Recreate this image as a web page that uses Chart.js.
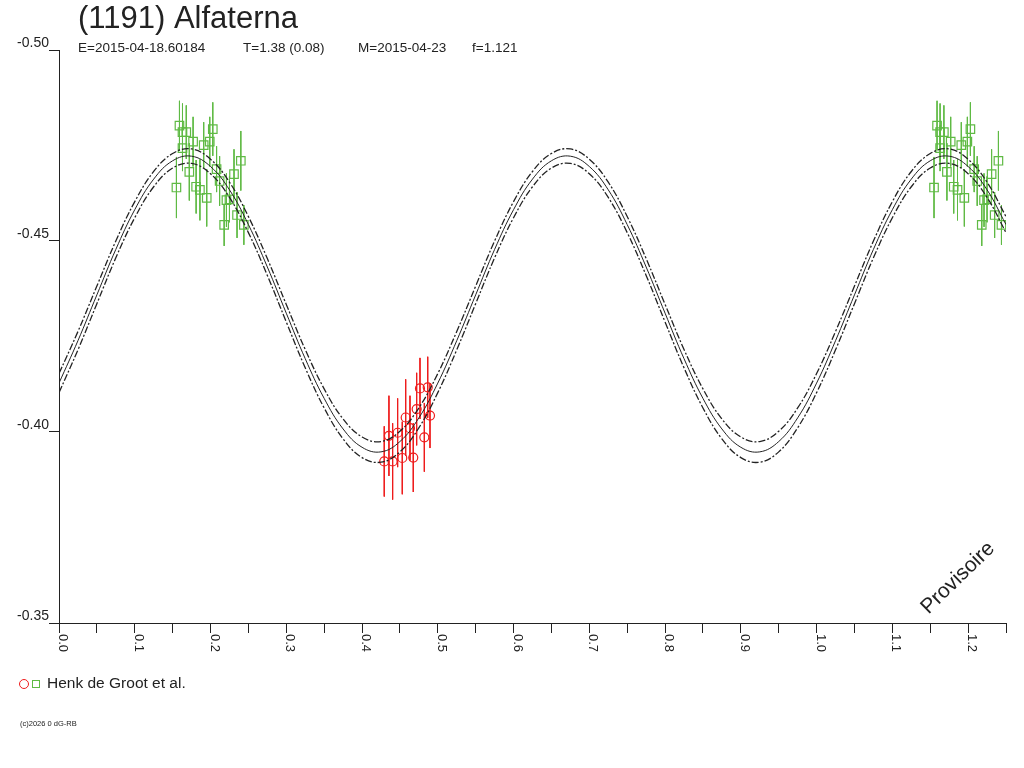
<!DOCTYPE html>
<html>
<head>
<meta charset="utf-8">
<title>(1191) Alfaterna</title>
<script src="https://cdn.jsdelivr.net/npm/chart.js@4.4.1/dist/chart.umd.min.js"></script>
<style>
  body { margin: 0; background: #ffffff; }
  #myChart { display: block; }
</style>
</head>
<body>
<canvas id="myChart" width="1024" height="768"></canvas>
<script>
// phase ticks + fit curves
var fitPhase = [0, 0.025, 0.05, 0.075, 0.1, 0.125, 0.15, 0.175, 0.2, 0.225, 0.25, 0.275, 0.3, 0.325, 0.35, 0.375, 0.4, 0.425, 0.45, 0.475,
  0.5, 0.525, 0.55, 0.575, 0.6, 0.625, 0.65, 0.675, 0.7, 0.725, 0.75, 0.775, 0.8, 0.825, 0.85, 0.875, 0.9, 0.925, 0.95, 0.975,
  1.0, 1.025, 1.05, 1.075, 1.1, 1.125, 1.15, 1.175, 1.2, 1.225, 1.25];

var fitMid = [-0.4128, -0.4239, -0.4359, -0.4478, -0.4582, -0.4662, -0.4710, -0.4722, -0.4695, -0.4634, -0.4543, -0.4432, -0.4311, -0.4192, -0.4088, -0.4008, -0.3960, -0.3948, -0.3975, -0.4037,
  -0.4128, -0.4239, -0.4359, -0.4478, -0.4582, -0.4662, -0.4710, -0.4722, -0.4695, -0.4634, -0.4543, -0.4432, -0.4311, -0.4192, -0.4088, -0.4008, -0.3960, -0.3948, -0.3975, -0.4037,
  -0.4128, -0.4239, -0.4359, -0.4478, -0.4582, -0.4662, -0.4710, -0.4722, -0.4695, -0.4634, -0.4543];

var fitHigh = [-0.4153, -0.4263, -0.4382, -0.4500, -0.4603, -0.4682, -0.4729, -0.4741, -0.4714, -0.4654, -0.4564, -0.4454, -0.4334, -0.4216, -0.4113, -0.4034, -0.3987, -0.3975, -0.4002, -0.4063,
  -0.4153, -0.4263, -0.4382, -0.4500, -0.4603, -0.4682, -0.4729, -0.4741, -0.4714, -0.4654, -0.4564, -0.4454, -0.4334, -0.4216, -0.4113, -0.4034, -0.3987, -0.3975, -0.4002, -0.4063,
  -0.4153, -0.4263, -0.4382, -0.4500, -0.4603, -0.4682, -0.4729, -0.4741, -0.4714, -0.4654, -0.4564];

var fitLow = [-0.4103, -0.4215, -0.4336, -0.4456, -0.4561, -0.4642, -0.4691, -0.4703, -0.4676, -0.4614, -0.4522, -0.4410, -0.4288, -0.4168, -0.4063, -0.3982, -0.3933, -0.3921, -0.3948, -0.4011,
  -0.4103, -0.4215, -0.4336, -0.4456, -0.4561, -0.4642, -0.4691, -0.4703, -0.4676, -0.4614, -0.4522, -0.4410, -0.4288, -0.4168, -0.4063, -0.3982, -0.3933, -0.3921, -0.3948, -0.4011,
  -0.4103, -0.4215, -0.4336, -0.4456, -0.4561, -0.4642, -0.4691, -0.4703, -0.4676, -0.4614, -0.4522];

// green squares (shown twice, at phase and phase+1)
var greenPhase = [0.155, 0.159, 0.163, 0.163, 0.168, 0.172, 0.177, 0.181, 0.186, 0.191, 0.195, 0.199, 0.203, 0.208, 0.212, 0.218, 0.221, 0.225, 0.231, 0.235, 0.240, 0.244];
var greenPhase2 = [1.155, 1.159, 1.163, 1.163, 1.168, 1.172, 1.177, 1.181, 1.186, 1.191, 1.195, 1.199, 1.203, 1.208, 1.212, 1.218, 1.221, 1.225, 1.231, 1.235, 1.240, 1.244];
var greenMag = [-0.4640, -0.4802, -0.4785, -0.4743, -0.4785, -0.4681, -0.4760, -0.4642, -0.4634, -0.4751, -0.4613, -0.4760, -0.4793, -0.4688, -0.4657, -0.4542, -0.4607, -0.4609, -0.4675, -0.4568, -0.4710, -0.4542];
var greenErr = [0.0080, 0.0065, 0.0075, 0.0060, 0.0070, 0.0075, 0.0065, 0.0070, 0.0080, 0.0060, 0.0075, 0.0065, 0.0070, 0.0060, 0.0065, 0.0055, 0.0070, 0.0060, 0.0065, 0.0060, 0.0078, 0.0052];

// red circles
var redPhase = [0.4293, 0.4355, 0.4404, 0.4470, 0.4531, 0.4576, 0.4633, 0.4676, 0.4721, 0.4765, 0.4822, 0.4867, 0.4897];
var redMag = [-0.3923, -0.3990, -0.3923, -0.3998, -0.3932, -0.4038, -0.4010, -0.3933, -0.4060, -0.4114, -0.3986, -0.4117, -0.4043];
var redErr = [0.0092, 0.0105, 0.0100, 0.0090, 0.0095, 0.0100, 0.0085, 0.0090, 0.0095, 0.0080, 0.0090, 0.0080, 0.0085];

var yTicks = [-0.50, -0.45, -0.40, -0.35];
var xLabels = ["0.0", "0.1", "0.2", "0.3", "0.4", "0.5", "0.6", "0.7", "0.8", "0.9", "1.0", "1.1", "1.2"];

var green = "#5fba44";
var red = "#ee1c1c";
var ink = "#222222";
var font = "'Liberation Sans', Arial, sans-serif";

function pts(xs, ys) {
  return xs.map(function (x, i) { return { x: x, y: ys[i] }; });
}

// error bars as line segments separated by gaps
function bars(xs, ys, es) {
  var out = [];
  for (var i = 0; i < xs.length; i++) {
    out.push({ x: xs[i], y: ys[i] - es[i] });
    out.push({ x: xs[i], y: ys[i] + es[i] });
    out.push({ x: xs[i], y: null });
  }
  return out;
}

function curve(ys, dash, w) {
  return {
    data: pts(fitPhase, ys),
    showLine: true,
    borderColor: ink,
    borderWidth: w,
    borderDash: dash,
    pointRadius: 0,
    tension: 0.4,
    fill: false,
    order: 1
  };
}

function bar(data, col) {
  return {
    data: data,
    showLine: true,
    spanGaps: false,
    borderColor: col,
    borderWidth: 1,
    pointRadius: 0,
    tension: 0,
    order: 4
  };
}

var textPlugin = {
  id: "texts",
  afterDraw: function (chart) {
    var ctx = chart.ctx;
    var xs = chart.scales.x;
    ctx.save();
    ctx.fillStyle = ink;
    ctx.textBaseline = "middle";
    ctx.textAlign = "left";

    ctx.font = "31px " + font;
    ctx.fillText("(1191) Alfaterna", 78, 19);

    ctx.font = "13.5px " + font;
    ctx.fillText("E=2015-04-18.60184", 78, 48);
    ctx.fillText("T=1.38 (0.08)", 243, 48);
    ctx.fillText("M=2015-04-23", 358, 48);
    ctx.fillText("f=1.121", 472, 48);

    // x labels turned clockwise
    ctx.font = "13px " + font;
    ctx.textBaseline = "alphabetic";
    for (var i = 0; i < xLabels.length; i++) {
      var px = xs.getPixelForValue(Number(xLabels[i]));
      ctx.save();
      ctx.translate(px, 634);
      ctx.rotate(Math.PI / 2);
      ctx.fillText(xLabels[i], 0, 0);
      ctx.restore();
    }

    // legend
    ctx.lineWidth = 1;
    ctx.strokeStyle = red;
    ctx.beginPath();
    ctx.arc(24, 684, 4.5, 0, Math.PI * 2);
    ctx.stroke();
    ctx.strokeStyle = green;
    ctx.strokeRect(32.5, 680.5, 7, 7);
    ctx.textBaseline = "middle";
    ctx.font = "15.5px " + font;
    ctx.fillText("Henk de Groot et al.", 47, 684);

    ctx.font = "7.5px " + font;
    ctx.fillText("(c)2026 0 dG-RB", 20, 724);

    ctx.font = "21px " + font;
    ctx.translate(958, 578);
    ctx.rotate(-Math.PI * 0.245);
    ctx.textAlign = "center";
    ctx.fillText("Provisoire", 0, 0);
    ctx.restore();
  }
};

new Chart("myChart", {
  type: "scatter",
  data: {
    datasets: [
      curve(fitMid, [], 1),
      curve(fitHigh, [7, 2, 2, 2], 1.3),
      curve(fitLow, [7, 2, 2, 2], 1.3),
      {
        data: pts(greenPhase, greenMag),
        pointStyle: "rect",
        pointRadius: 6,
        pointBorderColor: green,
        pointBackgroundColor: "rgba(0,0,0,0)",
        pointBorderWidth: 1.2,
        order: 2
      },
      {
        data: pts(greenPhase2, greenMag),
        pointStyle: "rect",
        pointRadius: 6,
        pointBorderColor: green,
        pointBackgroundColor: "rgba(0,0,0,0)",
        pointBorderWidth: 1.2,
        order: 2
      },
      {
        data: pts(redPhase, redMag),
        pointStyle: "circle",
        pointRadius: 4.5,
        pointBorderColor: red,
        pointBackgroundColor: "rgba(0,0,0,0)",
        pointBorderWidth: 1.2,
        order: 2
      },
      bar(bars(greenPhase, greenMag, greenErr), green),
      bar(bars(greenPhase2, greenMag, greenErr), green),
      bar(bars(redPhase, redMag, redErr), red)
    ]
  },
  options: {
    responsive: false,
    animation: false,
    events: [],
    layout: { padding: { left: 0, right: 18, top: 50, bottom: 0 } },
    plugins: {
      legend: { display: false },
      tooltip: { enabled: false },
      title: { display: false }
    },
    scales: {
      x: {
        type: "linear",
        min: 0,
        max: 1.25,
        grid: { drawOnChartArea: false, drawTicks: true, tickLength: 10, color: ink },
        border: { display: true, color: ink, width: 1 },
        ticks: {
          stepSize: 0.05,
          autoSkip: false,
          maxRotation: 0,
          callback: function () { return ""; }
        },
        afterFit: function (s) { s.height = 145; }
      },
      y: {
        type: "linear",
        reverse: true,
        min: -0.50,
        max: -0.35,
        grid: { drawOnChartArea: false, drawTicks: true, tickLength: 10, color: ink },
        border: { display: true, color: ink, width: 1 },
        afterBuildTicks: function (s) {
          s.ticks = yTicks.map(function (v) { return { value: v }; });
        },
        ticks: {
          padding: 0,
          labelOffset: -7,
          color: ink,
          font: { family: font, size: 14 },
          callback: function (v) { return Number(v).toFixed(2); }
        },
        afterFit: function (s) { s.width = 59; }
      }
    }
  },
  plugins: [textPlugin]
});
</script>
</body>
</html>
